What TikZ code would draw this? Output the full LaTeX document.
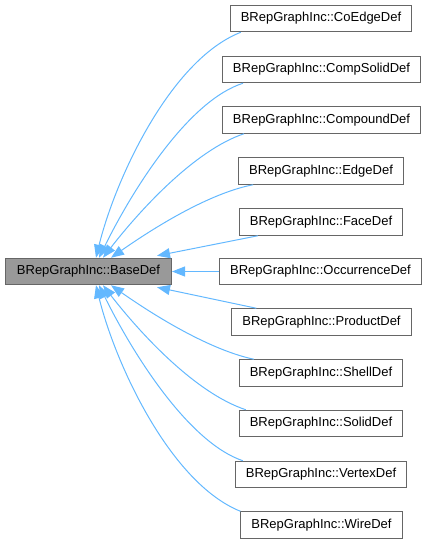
\documentclass[tikz,border=0pt]{standalone}
\usepackage{fontspec}
\setmainfont{Liberation Sans}
\usetikzlibrary{arrows.meta,calc}
\definecolor{edgeblue}{HTML}{63B8FF}
\definecolor{boxborder}{HTML}{666666}
\definecolor{basefill}{HTML}{999999}
\begin{document}
\begin{tikzpicture}[x=1pt,y=-1pt,
  cls/.style={draw=boxborder, fill=white, line width=1pt, minimum height=26.5pt,
    inner xsep=10.5pt, inner ysep=0pt, font=\fontsize{13}{15}\selectfont, anchor=center},
  basecls/.style={cls, fill=basefill},
  inh/.style={draw=edgeblue, line width=1pt, -{Triangle[length=13pt,width=10pt]}}
]
\useasboundingbox (0,0) rectangle (428,544);
\node[basecls, minimum width=166pt, inner xsep=0pt] (base) at (88.5,271.5) {BRepGraphInc::BaseDef};

\node[cls] (co)   at (321,18.5)  {BRepGraphInc::CoEdgeDef};
\node[cls] (cs)   at (321.5,69.5)  {BRepGraphInc::CompSolidDef};
\node[cls] (cp)   at (321.5,120)   {BRepGraphInc::CompoundDef};
\node[cls] (ed)   at (321,171)   {BRepGraphInc::EdgeDef};
\node[cls] (fa)   at (321,222)   {BRepGraphInc::FaceDef};
\node[cls] (oc)   at (320.5,271.5) {BRepGraphInc::OccurrenceDef};
\node[cls] (pr)   at (321.5,322)   {BRepGraphInc::ProductDef};
\node[cls] (sh)   at (321,373)   {BRepGraphInc::ShellDef};
\node[cls] (so)   at (321,423.5) {BRepGraphInc::SolidDef};
\node[cls] (ve)   at (321,474.5) {BRepGraphInc::VertexDef};
\node[cls] (wi)   at (321.5,525)   {BRepGraphInc::WireDef};

% upper group
\draw[inh] ($(co.south west)+(11,0)$) .. controls (170,60) and (115,180) .. ($(base.north west)+(91,0)$);
\draw[inh] ($(cs.south west)+(21,0)$) .. controls (190,100) and (135,185) .. ($(base.north west)+(94,0)$);
\draw[inh] ($(cp.south west)+(22,0)$) .. controls (195,150) and (140,210) .. ($(base.north west)+(98,0)$);
\draw[inh] ($(ed.south west)+(15,0)$) .. controls (215,192) and (165,220) .. ($(base.north west)+(106,0)$);
\draw[inh] ($(fa.south west)+(19,0)$) -- ($(base.north west)+(152,-2)$);
% middle
\draw[inh] (oc.west) -- (base.east);
% lower group
\draw[inh] ($(pr.north west)+(25,0)$) -- ($(base.south west)+(152,2)$);
\draw[inh] ($(sh.north west)+(15,0)$) .. controls (215,351) and (165,323) .. ($(base.south west)+(106,0)$);
\draw[inh] ($(so.north west)+(7,0)$) .. controls (195,393) and (140,333) .. ($(base.south west)+(98,0)$);
\draw[inh] ($(ve.north west)+(8,0)$) .. controls (190,443) and (135,358) .. ($(base.south west)+(94,0)$);
\draw[inh] ($(wi.north west)+(0,0)$) .. controls (170,483) and (115,363) .. ($(base.south west)+(91,0)$);
\end{tikzpicture}
\end{document}
